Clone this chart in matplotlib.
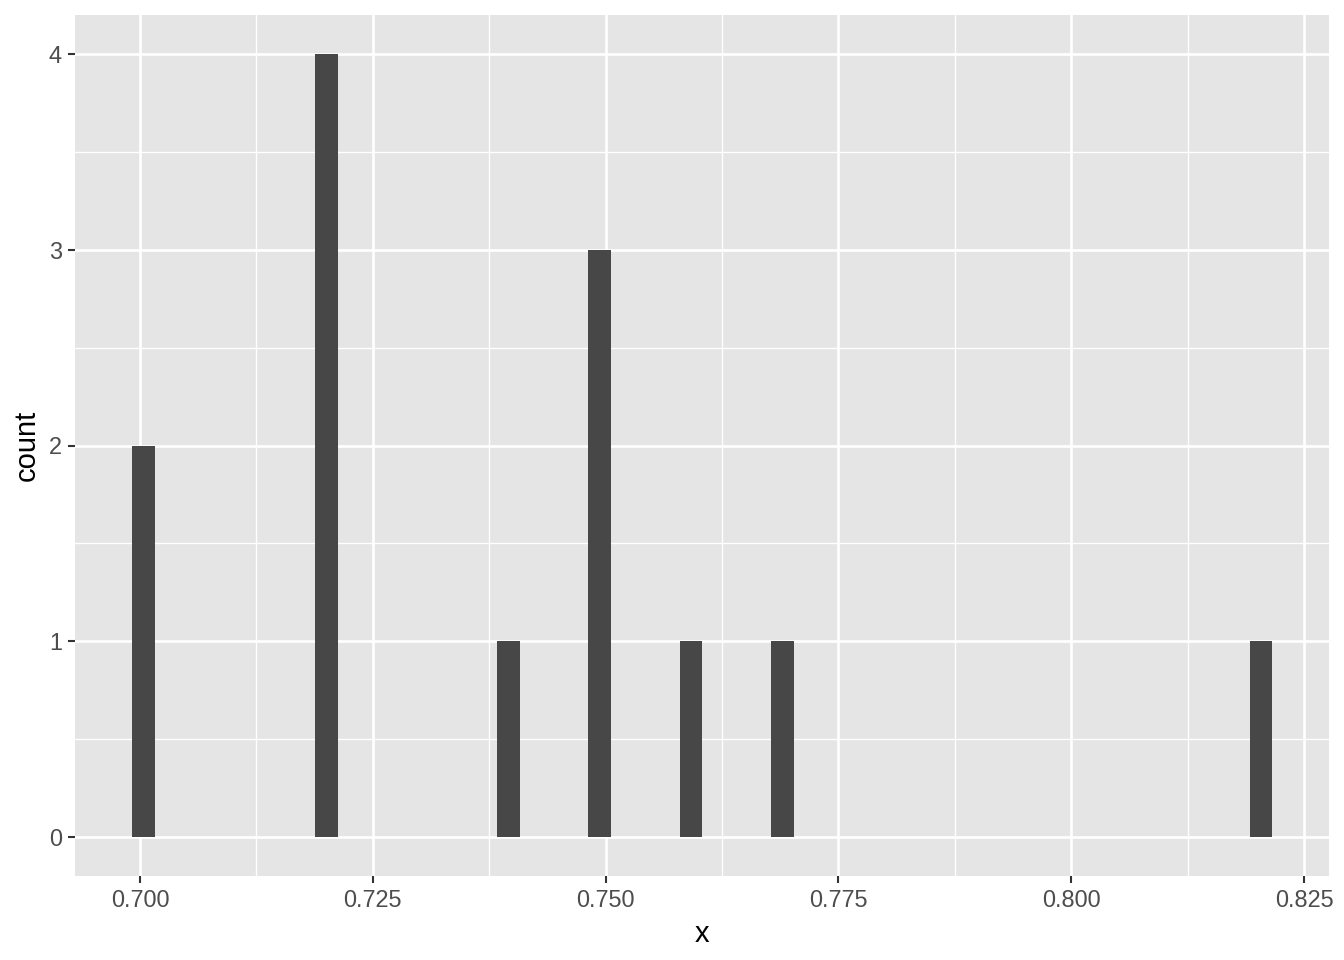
import numpy as np
import matplotlib
matplotlib.use("Agg")
import matplotlib.pyplot as plt

# histogram bins as drawn (bin centre, count)
bin_centres = [0.70038, 0.72003, 0.73957, 0.74934, 0.75917, 0.76900, 0.82038]
counts = [2, 4, 1, 3, 1, 1, 1]
bin_width = 0.00245

x_ticks = [0.700, 0.725, 0.750, 0.775, 0.800, 0.825]
x_ticklabels = ["0.700", "0.725", "0.750", "0.775", "0.800", "0.825"]
y_ticks = [0, 1, 2, 3, 4]

plt.rcParams["font.family"] = ["Liberation Sans", "DejaVu Sans"]

fig = plt.figure(figsize=(13.44, 9.6), dpi=100)
ax = fig.add_axes([75/1344, 1 - 876/960, (1329 - 75)/1344, (876 - 15)/960])
ax.set_facecolor("#E5E5E5")

ax.bar(bin_centres, counts, width=bin_width, color="#474747", zorder=3)

ax.set_xlim(0.69302, 0.82768)
ax.set_ylim(-0.2, 4.2)

ax.set_xticks(x_ticks)
ax.set_xticklabels(x_ticklabels)
ax.set_yticks(y_ticks)
ax.set_xticks([0.7125, 0.7375, 0.7625, 0.7875, 0.8125], minor=True)
ax.set_yticks([0.5, 1.5, 2.5, 3.5], minor=True)

ax.grid(which="major", color="white", linewidth=1.9, zorder=1)
ax.grid(which="minor", color="white", linewidth=0.95, zorder=1)
ax.set_axisbelow(True)

for s in ax.spines.values():
    s.set_visible(False)

ax.tick_params(which="major", length=5.3, width=1.5, color="#333333",
               labelsize=16.9, labelcolor="#4D4D4D", pad=4)
ax.tick_params(which="minor", length=0)

ax.set_xlabel("x", fontsize=21, color="black", labelpad=6)
ax.set_ylabel("count", fontsize=21, color="black", labelpad=6)

fig.savefig("out.png", dpi=100)
